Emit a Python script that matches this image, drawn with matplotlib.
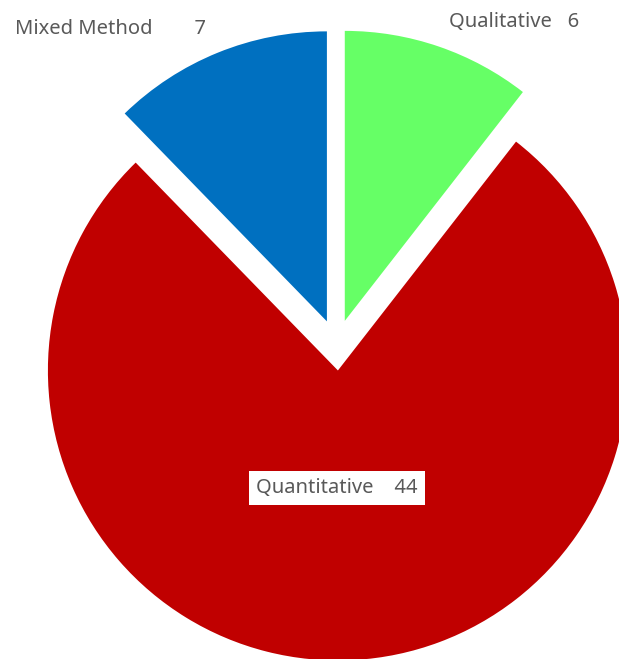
import matplotlib.pyplot as plt

# data
labels = ['Qualitative', 'Quantitative', 'Mixed Method']
counts = [6, 44, 7]
colors = ['#66FF66', '#C00000', '#0070C0']

W, H = 619, 659
fig = plt.figure(figsize=(W / 100, H / 100), dpi=100)
ax = fig.add_axes([0, 0, 1, 1])

radius = 290
ax.pie(counts, colors=colors, startangle=90, counterclock=False,
       radius=radius, center=(336.5, H - 345),
       explode=[25.5] * len(counts),
       wedgeprops=dict(linewidth=0))

ax.set_xlim(0, W)
ax.set_ylim(0, H)
ax.set_aspect('auto')
ax.axis('off')

font = dict(family=['Noto Sans', 'DejaVu Sans'], fontsize=14.5, color='#595959')
ax.text(15, H - 29, labels[2] + '        ' + str(counts[2]), ha='left', va='center', **font)
ax.text(449, H - 22, labels[0] + '   ' + str(counts[0]), ha='left', va='center', **font)
ax.text(337, H - 488, labels[1] + '    ' + str(counts[1]), ha='center', va='center',
        bbox=dict(facecolor='white', edgecolor='none', pad=5), **font)

fig.savefig('out.png', dpi=100)
